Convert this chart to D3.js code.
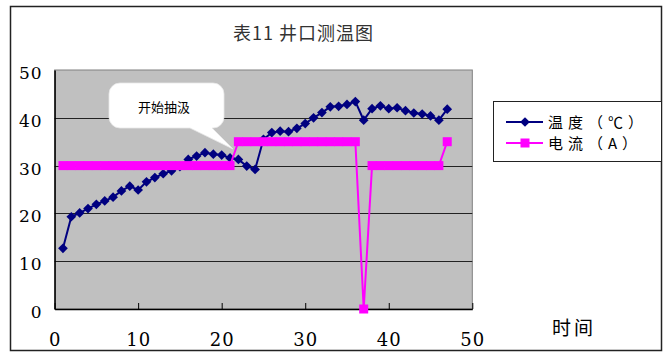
<!DOCTYPE html>
<html><head><meta charset="utf-8">
<script src="https://cdn.jsdelivr.net/npm/d3@7"></script>
<style>body{margin:0;background:#fff}svg{display:block}
</style>
</head><body>
<script>
const xValues = [1,2,3,4,5,6,7,8,9,10,11,12,13,14,15,16,17,18,19,20,21,22,23,24,25,26,27,28,29,30,31,32,33,34,35,36,37,38,39,40,41,42,43,44,45,46,47];
const temperature = [12.7,19.3,20.1,21.0,21.9,22.6,23.4,24.7,25.7,24.9,26.6,27.5,28.3,28.9,29.8,31.3,32.0,32.7,32.4,32.2,31.6,31.3,29.9,29.2,35.5,36.9,37.2,37.1,37.8,38.8,40.0,41.1,42.3,42.4,42.8,43.4,39.5,41.9,42.5,41.9,42.1,41.5,41.0,40.8,40.4,39.5,41.8];
const current = [30,30,30,30,30,30,30,30,30,30,30,30,30,30,30,30,30,30,30,30,30,35,35,35,35,35,35,35,35,35,35,35,35,35,35,35,0,30,30,30,30,30,30,30,30,30,35];
const xTicks = [0,10,20,30,40,50];
const yTicks = [0,10,20,30,40,50];
const title = "表11 井口测温图";
const seriesNames = ["温度（℃）","电流（A）"];
const xTitle = "时间";
const note = "开始抽汲";

const W = 666, H = 353;
const svg = d3.select("body").append("svg").attr("width", W).attr("height", H);
const cjk = "'Noto Sans CJK SC','Noto Sans',sans-serif";
const serifFont = "'DejaVu Serif'";

// outer frame
svg.append("rect").attr("x",10.5).attr("y",6.5).attr("width",651).attr("height",344)
  .attr("fill","#fff").attr("stroke","#222").attr("stroke-width",1.5);

const x = d3.scaleLinear().domain([0,50]).range([54.6,472.3]);
const y = d3.scaleLinear().domain([0,50]).range([309,70]);

// plot area
svg.append("rect").attr("x",x(0)).attr("y",y(50)).attr("width",x(50)-x(0)).attr("height",y(0)-y(50))
  .attr("fill","#c0c0c0").attr("stroke","#808080").attr("stroke-width",1);

// gridlines
svg.append("g").selectAll("line").data(yTicks.filter(d=>d>0&&d<50)).join("line")
  .attr("x1",x(0)).attr("x2",x(50)).attr("y1",d=>Math.round(y(d))+0.5).attr("y2",d=>Math.round(y(d))+0.5)
  .attr("stroke","#222").attr("stroke-width",1);

// x axis
const xAxis = svg.append("g").attr("transform",`translate(0,${y(0)})`)
  .call(d3.axisBottom(x).tickValues(xTicks).tickSizeInner(-6).tickSizeOuter(0).tickPadding(34));
xAxis.attr("font-family",serifFont).attr("font-size",18);
xAxis.select(".domain").attr("stroke","#000").attr("stroke-width",1.5);
xAxis.selectAll(".tick line").attr("stroke","#000");
xAxis.selectAll("text").attr("fill","#000").attr("letter-spacing",1).attr("dy","0.15em");

// y axis
const yAxis = svg.append("g").attr("transform",`translate(${x(0)},0)`)
  .call(d3.axisLeft(y).tickValues(yTicks).tickSize(0).tickPadding(12));
yAxis.attr("font-family",serifFont).attr("font-size",17);
yAxis.select(".domain").attr("stroke","#000").attr("stroke-width",1.5);
yAxis.selectAll("text").attr("fill","#000").attr("letter-spacing",1).attr("dy","0.5em");

// temperature series
const tData = xValues.map((v,i)=>[v,temperature[i]]);
const cData = xValues.map((v,i)=>[v,current[i]]);
const line = d3.line().x(d=>x(d[0])).y(d=>y(d[1]));
svg.append("path").datum(tData).attr("d",line).attr("fill","none").attr("stroke","#000080").attr("stroke-width",2);
svg.append("g").selectAll("path").data(tData).join("path")
  .attr("d",d3.symbol(d3.symbolDiamond2,60)).attr("transform",d=>`translate(${x(d[0])},${y(d[1])})`)
  .attr("fill","#000080");

// current series
svg.append("path").datum(cData).attr("d",line).attr("fill","none").attr("stroke","#ff00ff").attr("stroke-width",2);
svg.append("g").selectAll("rect").data(cData).join("rect")
  .attr("x",d=>x(d[0])-4.5).attr("y",d=>y(d[1])-4.5).attr("width",9).attr("height",9)
  .attr("fill","#ff00ff");

// callout
const co = {x0:109,y0:83,x1:224,y1:128,r:11};
const cp = d3.path();
cp.moveTo(co.x0+co.r,co.y0);
cp.lineTo(co.x1-co.r,co.y0); cp.arcTo(co.x1,co.y0,co.x1,co.y0+co.r,co.r);
cp.lineTo(co.x1,co.y1-co.r); cp.arcTo(co.x1,co.y1,co.x1-co.r,co.y1,co.r);
cp.lineTo(212,co.y1); cp.lineTo(233,149); cp.lineTo(190,co.y1);
cp.lineTo(co.x0+co.r,co.y1); cp.arcTo(co.x0,co.y1,co.x0,co.y1-co.r,co.r);
cp.lineTo(co.x0,co.y0+co.r); cp.arcTo(co.x0,co.y0,co.x0+co.r,co.y0,co.r);
cp.closePath();
svg.append("path").attr("d",cp.toString()).attr("fill","#fff").attr("stroke","#e8e8e8").attr("stroke-width",0.8);
svg.append("text").attr("x",164).attr("y",112).attr("text-anchor","middle")
  .attr("font-family",cjk).attr("font-size",13).attr("fill","#000").text(note);

// title
svg.append("text").attr("x",233).attr("y",40).attr("font-family",cjk).attr("font-size",18)
  .attr("letter-spacing",1).attr("fill","#333").text(title);

// x title
svg.append("text").attr("x",552).attr("y",335).attr("font-family",cjk).attr("font-size",19)
  .attr("letter-spacing",3).attr("fill","#000").text(xTitle);

// legend
svg.append("rect").attr("x",493.5).attr("y",101.5).attr("width",168).attr("height",60)
  .attr("fill","#fff").attr("stroke","#222").attr("stroke-width",1);
const lg = [{y:122,color:"#000080",sym:"diamond"},{y:143,color:"#ff00ff",sym:"square"}];
lg.forEach((d,i)=>{
  svg.append("line").attr("x1",506).attr("x2",543).attr("y1",d.y).attr("y2",d.y)
    .attr("stroke",d.color).attr("stroke-width",2);
  if (d.sym==="diamond") {
    svg.append("path").attr("d",d3.symbol(d3.symbolDiamond2,60)).attr("transform",`translate(525,${d.y})`).attr("fill",d.color);
  } else {
    svg.append("rect").attr("x",520.5).attr("y",d.y-4.5).attr("width",9).attr("height",9).attr("fill",d.color);
  }
  svg.append("text").attr("x",548).attr("y",d.y+5.5).attr("font-family",cjk).attr("font-size",15)
    .attr("letter-spacing",5).attr("fill","#000").text(seriesNames[i]);
});
</script>
</body></html>
